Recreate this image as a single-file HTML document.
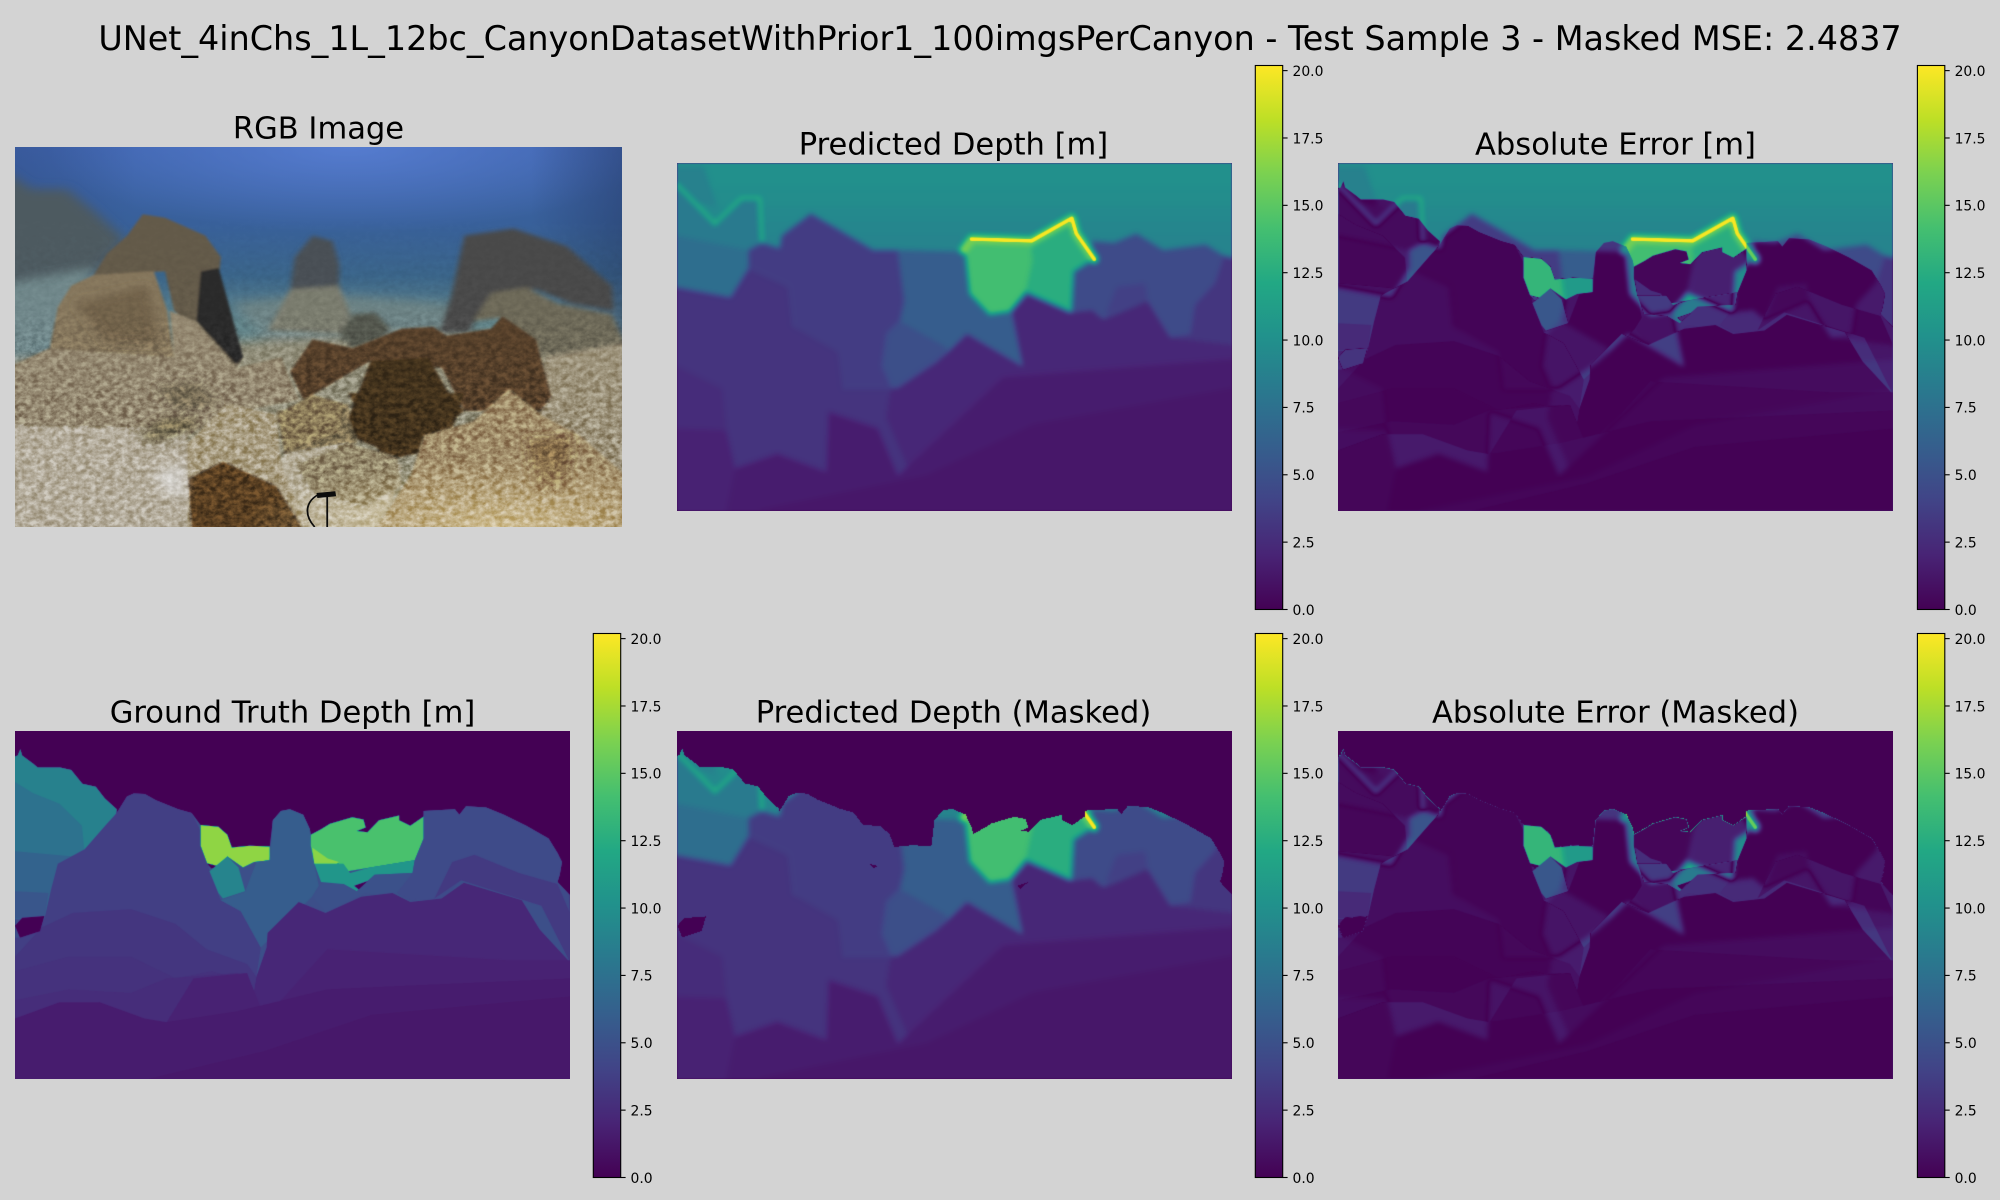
<!DOCTYPE html>
<html lang="en">
<head>
<meta charset="utf-8">
<title>Canyon depth test sample</title>
<style>
html,body{margin:0;padding:0;background:#d3d3d3;}
#figure{position:relative;width:2000px;height:1200px;background:#d3d3d3;overflow:hidden;font-family:"DejaVu Sans","Liberation Sans",sans-serif;color:#000;}
canvas{position:absolute;display:block;}
#overlay{position:absolute;left:0;top:0;}
#rgb{position:absolute;left:15px;top:147px;}
</style>
</head>
<body>
<div id="figure">
  <svg id="rgb" width="607" height="380" viewBox="34 412 1359 1063" preserveAspectRatio="none">
    <defs>
      <linearGradient id="water" x1="0" y1="0" x2="0" y2="1">
        <stop offset="0" stop-color="#3f64ad"/><stop offset="0.2" stop-color="#38609a"/>
        <stop offset="0.34" stop-color="#3a6488"/><stop offset="0.46" stop-color="#5f8288"/>
        <stop offset="1" stop-color="#8f9488"/>
      </linearGradient>
      <radialGradient id="glow" cx="0.55" cy="0" r="0.5">
        <stop offset="0" stop-color="#5b82d8" stop-opacity="0.8"/><stop offset="1" stop-color="#5b82d8" stop-opacity="0"/>
      </radialGradient>
      <linearGradient id="edge" x1="0" y1="0" x2="1" y2="0">
        <stop offset="0" stop-color="#203058" stop-opacity="0.2"/><stop offset="0.2" stop-color="#203058" stop-opacity="0"/>
        <stop offset="0.85" stop-color="#203058" stop-opacity="0"/><stop offset="1" stop-color="#203058" stop-opacity="0.4"/>
      </linearGradient>
      <radialGradient id="sun" cx="0.8" cy="1" r="0.42">
        <stop offset="0" stop-color="#f4e3ae" stop-opacity="0.55"/><stop offset="1" stop-color="#f0dfa8" stop-opacity="0"/>
      </radialGradient>
      <linearGradient id="noiseFade" x1="0" y1="0" x2="0" y2="1">
        <stop offset="0" stop-color="#000"/><stop offset="0.3" stop-color="#222"/><stop offset="0.5" stop-color="#aaa"/><stop offset="0.7" stop-color="#fff"/>
      </linearGradient>
      <mask id="noiseMask" maskUnits="userSpaceOnUse" x="34" y="412" width="1359" height="1063">
        <rect x="34" y="600" width="1359" height="875" fill="url(#noiseFade)"/>
      </mask>
      <filter id="blurFar" x="-0.1" y="-0.1" width="1.2" height="1.2"><feGaussianBlur stdDeviation="14"/></filter>
      <filter id="blurMid" x="-0.1" y="-0.1" width="1.2" height="1.2"><feGaussianBlur stdDeviation="6"/></filter>
      <filter id="blurNear" x="-0.1" y="-0.1" width="1.2" height="1.2"><feGaussianBlur stdDeviation="3"/></filter>
      <filter id="blurPatch" x="-0.3" y="-0.3" width="1.6" height="1.6"><feGaussianBlur stdDeviation="12"/></filter>
      <filter id="grain" x="0" y="0" width="1" height="1" color-interpolation-filters="sRGB">
        <feTurbulence type="fractalNoise" baseFrequency="0.07" numOctaves="4" seed="11"/>
        <feColorMatrix type="matrix" values="1.3 1.3 0 0 -0.8 1.3 1.3 0 0 -0.8 1.3 1.3 0 0 -0.8 0 0 0 0 1"/>
      </filter>
      <clipPath id="rgbClip"><rect x="34" y="412" width="1359" height="1063"/></clipPath>
    </defs>
    <g clip-path="url(#rgbClip)">
    <rect x="34" y="412" width="1359" height="1063" fill="url(#water)"/>
    <rect x="34" y="412" width="1359" height="480" fill="url(#glow)"/>
    <rect x="34" y="412" width="1359" height="620" fill="url(#edge)"/>
    <g filter="url(#blurFar)">
      <polygon fill="#4d5a60" points="0,470 70,530 150,530 210,590 280,670 220,770 110,830 0,830"/>
      <polygon fill="#6f878a" points="0,800 210,750 170,950 0,1030"/>
      <polygon fill="#6c8284" points="520,850 660,830 800,830 1010,850 1060,960 640,1010"/>
      <polygon fill="#8f8c78" points="0,1010 600,950 1000,930 1400,950 1400,1500 0,1500"/>
    </g>
    <g filter="url(#blurMid)">
      <polygon fill="#494f55" points="660,720 700,660 745,675 760,740 760,810 650,810"/>
      <polygon fill="#7a7c6e" points="650,810 760,800 785,880 770,935 600,925"/>
      <polygon fill="#52564d" points="760,935 790,880 840,875 875,920 850,950 790,975"/>
      <polygon fill="#494a48" points="1040,660 1150,640 1270,690 1370,800 1375,870 1280,850 1200,810 1100,820 1050,930 985,930 1010,830"/>
      <polygon fill="#6d6958" points="1060,900 1100,820 1180,805 1250,850 1370,880 1400,960 1290,1005 1220,1000 1120,890"/>
      <polygon fill="#9c927a" points="1220,1000 1400,960 1400,1480 1200,1200"/>
    </g>
    <g filter="url(#blurNear)">
      <polygon fill="#645a4a" points="285,660 320,600 370,610 460,660 495,720 490,780 545,1000 530,1030 450,930 390,870 370,760 210,770 240,710"/>
      <polygon fill="#2b292a" points="450,760 490,750 545,1000 530,1020 440,900"/>
      <polygon fill="#85765b" points="210,770 345,760 375,870 390,1000 300,1020 110,985 130,860 160,800"/>
      <polygon fill="#93876f" points="380,870 440,900 530,1030 630,1000 670,1120 500,1160 420,1220 0,1190 0,1040 110,975 390,1000"/>
      <polygon fill="#b3ab9a" points="0,1190 420,1200 430,1500 0,1500"/>
      <polygon fill="#56402a" points="650,1040 700,950 790,975 900,920 970,915 1000,940 1100,920 1125,885 1200,950 1235,1110 1210,1150 1040,1150 990,1030 830,1010 680,1120"/>
      <polygon fill="#7d6f52" points="620,1150 780,1130 800,1240 640,1290"/>
      <polygon fill="#b8b09c" points="640,1270 780,1240 900,1300 880,1400 830,1500 700,1500 620,1300"/>
      <polygon fill="#4e3a24" points="780,1100 1040,1100 1000,1250 860,1290"/>
      <polygon fill="#43301c" points="780,1170 830,1010 960,1000 1000,1090 1040,1150 930,1260 900,1280 800,1230"/>
      <polygon fill="#8a7a58" points="620,1160 700,1105 770,1130 760,1210 640,1265"/>
      <polygon fill="#a89c80" points="420,1240 510,1130 620,1160 630,1300 700,1500 420,1500"/>
      <polygon fill="#5a4024" points="420,1340 500,1290 620,1360 690,1500 430,1500"/>
      <polygon fill="#93876a" points="660,1300 780,1240 890,1280 900,1360 820,1420 700,1380"/>
      <polygon fill="#9f8b68" points="830,1500 920,1330 950,1220 1060,1180 1140,1090 1210,1160 1300,1220 1400,1330 1400,1500"/>
    </g>
    <g filter="url(#blurPatch)">
      <polygon fill="#6b5c44" fill-opacity="0.75" points="170,850 330,800 360,960 240,960"/>
      <polygon fill="#6b5f48" fill-opacity="0.7" points="350,1085 440,1070 490,1130 400,1150"/>
      <polygon fill="#6f6547" fill-opacity="0.8" points="305,1215 370,1170 450,1170 420,1215 340,1250"/>
      <polygon fill="#dcdbd8" fill-opacity="0.8" points="345,1325 415,1295 415,1395 370,1380"/>
      <polygon fill="#6e4f2e" fill-opacity="0.5" points="1180,1230 1280,1220 1270,1370 1200,1380"/>
    </g>
    <rect x="34" y="1000" width="1359" height="475" fill="url(#sun)"/>
    <rect x="34" y="600" width="1359" height="875" filter="url(#grain)" mask="url(#noiseMask)" style="mix-blend-mode:overlay" opacity="0.38"/>
    <path d="M712 1385 C685 1405 680 1440 705 1475 M733 1385 L733 1475" fill="none" stroke="#0c0c0c" stroke-width="4"/>
    <path d="M710 1387 L752 1382" fill="none" stroke="#0c0c0c" stroke-width="14"/>
    </g>
  </svg>

  <canvas id="gtPanel" width="555" height="348" style="left:15px;top:731px"></canvas>
  <canvas id="predPanel" width="555" height="348" style="left:677px;top:163px"></canvas>
  <canvas id="errPanel" width="555" height="348" style="left:1338px;top:163px"></canvas>
  <canvas id="predMaskedPanel" width="555" height="348" style="left:677px;top:731px"></canvas>
  <canvas id="errMaskedPanel" width="555" height="348" style="left:1338px;top:731px"></canvas>

  <svg id="overlay" width="2000" height="1200" viewBox="0 0 2000 1200">
    <defs>
      <linearGradient id="viridisGradient" x1="0" y1="1" x2="0" y2="0"></linearGradient>
    </defs>
    <text x="1000" y="50" text-anchor="middle" font-size="33.4">UNet_4inChs_1L_12bc_CanyonDatasetWithPrior1_100imgsPerCanyon - Test Sample 3 - Masked MSE: 2.4837</text>
    <text x="318.5" y="138.7" text-anchor="middle" font-size="30.55">RGB Image</text>
    <text x="953.5" y="154.7" text-anchor="middle" font-size="30.55">Predicted Depth [m]</text>
    <text x="1615.5" y="154.7" text-anchor="middle" font-size="30.55">Absolute Error [m]</text>
    <text x="292.5" y="722.7" text-anchor="middle" font-size="30.55">Ground Truth Depth [m]</text>
    <text x="953.5" y="722.7" text-anchor="middle" font-size="30.55">Predicted Depth (Masked)</text>
    <text x="1615.5" y="722.7" text-anchor="middle" font-size="30.55">Absolute Error (Masked)</text>
  </svg>
</div>

<script>
// Colour scale and axis data
const domainMax = 20.19;
const viridisStops = ["#440154","#482475","#414487","#355f8d","#2a788e","#21918c","#22a884","#44bf70","#7ad151","#bddf26","#fde725"];
const tickValues = [0, 2.5, 5, 7.5, 10, 12.5, 15, 17.5, 20];
const tickLabels = ["0.0","2.5","5.0","7.5","10.0","12.5","15.0","17.5","20.0"];

// Predicted depth: metres per region, and region outlines in image units (1244 x 956)
const predDepths = [10,9.7,9.4,9.2,9,8.8,8.2,7.3,3.0,2.2,2.5,1.6,1.3,1.9,5.9,4.8,3.6,4.6,3.2,3.8,14,12.6];
const predOutlines = [
  [0,0,1244,0,1244,956,0,956],
  [0,70,1244,70,1244,956,0,956],
  [0,120,1244,120,1244,956,0,956],
  [0,160,1244,160,1244,956,0,956],
  [0,200,1244,200,1244,956,0,956],
  [0,10,60,10,90,120,0,100],
  [0,60,85,167,145,99,185,99,190,214,160,240,0,200],
  [0,200,160,240,160,290,120,370,0,341],
  [0,341,120,369,160,289,250,339,260,449,370,519,370,619,480,619,580,549,650,469,775,559,750,409,785,359,880,411,930,404,955,429,1055,379,1105,479,1244,499,1244,956,0,956],
  [750,409,785,359,880,411,930,404,955,429,1055,379,1105,479,1244,499,1244,956,560,956,470,700,480,619,580,549,650,469,775,559],
  [0,560,100,620,110,735,0,730],
  [340,684,450,729,495,859,730,589,1244,539,1244,956,110,956,130,839,225,799,335,849],
  [180,956,560,860,800,720,1244,620,1244,956],
  [0,730,110,735,130,839,110,956,0,956],
  [495,239,645,244,655,359,700,419,750,409,775,559,680,489,650,469,610,510,500,434,510,379],
  [500,434,610,510,580,549,495,619,475,619,460,559,470,469],
  [160,239,190,219,230,234,235,199,300,139,350,174,440,239,495,239,510,379,500,434,470,469,460,559,480,619,370,619,360,519,315,489,260,449,250,339,160,289],
  [930,214,980,219,1030,194,1090,239,1185,224,1225,254,1205,329,1160,389,1150,469,1105,479,1055,379,955,429,930,404,885,409,890,299,935,264],
  [1225,254,1244,260,1244,499,1105,479,1150,469,1160,389,1205,329],
  [960,420,985,340,1050,330,1055,379],
  [645,244,660,209,795,214,798,269,785,349,745,409,700,417,655,359],
  [795,214,885,154,895,194,935,264,890,299,885,409,785,357,798,269]
];
// Soft glow lines blurred along with the regions
const predGlowDepths = [13,16];
const predGlowWidths = [8,20];
const predGlows = [
  [0,60,85,167,145,97,185,97,190,214],
  [642,239,660,209,795,214,885,152,895,194,935,264]
];
// Sharp bright ridge on top of the glow
const predRidgeDepths = [20];
const predRidgeWidths = [13];
const predRidges = [
  [660,209,795,214,885,152,895,194,935,264]
];

// Ground truth depth: metres per region, and outlines in the same image units
const gtDepths = [0,4.8,8.8,7.6,6.4,5.4,3.7,3.2,2.9,2.6,16.8,0,9,5.9,14.3,16.6,10.5,0,4.6,3.4,5,2.2,1.9,1.55,1.35,0];
const gtOutlines = [
  [0,0,1244,0,1244,956,0,956],
  [0,70,6,67,12,50,16,67,41,90,51,100,101,100,126,107,151,145,181,153,201,185,228,215,228,225,251,180,266,172,291,173,316,190,366,215,396,225,416,258,456,263,476,285,486,320,526,315,571,317,578,245,596,220,616,215,646,230,661,270,663,285,686,270,706,255,756,237,781,243,786,265,766,275,790,278,816,245,861,232,861,245,886,260,916,235,916,220,986,215,996,230,1011,207,1056,210,1096,230,1146,260,1196,295,1216,335,1226,360,1221,395,1216,415,1243,450,1244,956,0,956],
  [0,70,6,67,12,50,16,67,41,90,51,100,101,100,126,107,151,145,181,153,201,185,228,215,224,240,156,335,96,375,66,515,0,515],
  [0,140,40,170,100,200,150,260,156,335,96,375,66,515,0,515],
  [0,330,130,345,96,375,66,515,0,515],
  [0,440,75,445,66,515,0,515],
  [66,515,81,435,96,365,156,325,206,255,228,225,251,180,266,172,291,173,316,190,366,215,396,225,416,275,436,385,461,465,506,495,551,595,541,675,506,695,500,956,0,956,0,568,11,568,56,550],
  [0,620,60,540,130,500,260,490,360,530,430,600,520,640,541,675,500,956,0,956],
  [0,660,120,620,260,620,360,680,440,660,500,680,500,956,0,956],
  [0,740,120,710,260,720,340,680,500,665,560,790,600,956,0,956],
  [416,258,456,263,476,285,486,320,526,315,571,317,571,355,536,360,511,375,476,345,456,375,431,365,416,315],
  [430,363,458,372,440,378],
  [436,385,476,345,501,375,516,440,466,460,456,445],
  [571,355,578,245,596,220,616,215,646,230,661,270,666,335,681,425,666,455,551,595,506,495,461,465,516,440,541,360],
  [663,285,686,270,706,255,756,237,781,243,786,265,766,275,790,278,816,245,861,232,861,245,886,260,916,235,916,295,896,355,746,385,726,365,671,365,663,315],
  [666,320,701,350,726,360,711,375,671,365],
  [671,365,736,365,751,390,796,375,896,355,891,390,806,395,766,440,736,420,686,415],
  [760,425,795,410,775,440],
  [916,220,986,215,996,230,1011,207,1056,210,1096,230,1146,260,1196,295,1216,335,1226,360,1221,395,1216,415,1243,450,1244,635,1180,480,1000,410,960,460,886,465,856,445,891,390,896,355,916,295],
  [940,460,980,360,1030,340,1130,390,1216,420,1244,500,1244,635,1180,480,1000,410],
  [666,455,686,420,736,420,766,440,806,395,891,390,856,445,886,470,786,445,696,500],
  [1244,635,1176,545,1136,465,1006,417,956,460,886,470,846,445,776,455,696,500,636,470,566,555,564,595,541,675,500,956,1244,956],
  [340,800,400,680,520,665,560,790,700,600,1100,630,1244,630,1244,956,340,956],
  [0,790,100,745,190,745,290,790,340,800,500,770,700,710,1244,680,1244,956,0,956],
  [300,956,560,880,800,780,1244,730,1244,956],
  [0,535,16,513,66,508,56,550,11,568]
];

// Axis functions
const W = 555, H = 348, unitW = 1244, unitH = 956;
function xScale(u){ return u * W / unitW; }
function yScale(v){ return v * H / unitH; }
function depthToGray(d){ var g = Math.round(Math.min(d, domainMax) / domainMax * 255); return "rgb(" + g + "," + g + "," + g + ")"; }
function hexToRgb(h){ return [parseInt(h.substr(1,2),16), parseInt(h.substr(3,2),16), parseInt(h.substr(5,2),16)]; }
const stopRgb = viridisStops.map(hexToRgb);
function colorAt(d){
  var t = Math.max(0, Math.min(1, d / domainMax)) * (stopRgb.length - 1);
  var i = Math.min(stopRgb.length - 2, Math.floor(t)), f = t - i;
  var a = stopRgb[i], b = stopRgb[i + 1];
  return [a[0] + (b[0] - a[0]) * f, a[1] + (b[1] - a[1]) * f, a[2] + (b[2] - a[2]) * f];
}
function tracePath(ctx, pts){
  ctx.beginPath();
  ctx.moveTo(xScale(pts[0]), yScale(pts[1]));
  for (var i = 2; i < pts.length; i += 2) ctx.lineTo(xScale(pts[i]), yScale(pts[i + 1]));
}
function rasterize(depths, outlines, ridgeDepths, ridges, ridgeWidths){
  var c = document.createElement("canvas");
  c.width = W; c.height = H;
  var ctx = c.getContext("2d");
  ctx.fillStyle = "#000"; ctx.fillRect(0, 0, W, H);
  depths.forEach(function(d, i){
    tracePath(ctx, outlines[i]); ctx.closePath();
    ctx.fillStyle = depthToGray(d); ctx.fill();
  });
  ctx.lineJoin = "round"; ctx.lineCap = "round";
  ridgeDepths.forEach(function(d, i){
    tracePath(ctx, ridges[i]);
    ctx.strokeStyle = depthToGray(d);
    ctx.lineWidth = ridgeWidths[i] * W / unitW;
    ctx.stroke();
  });
  var px = ctx.getImageData(0, 0, W, H).data, out = new Float32Array(W * H);
  for (var k = 0; k < W * H; k++) out[k] = px[k * 4] / 255 * domainMax;
  return out;
}
function boxBlur(src, radius, passes){
  var a = src, n = 2 * radius + 1;
  for (var p = 0; p < passes; p++){
    var b = new Float32Array(W * H), c = new Float32Array(W * H), x, y, r, s;
    for (y = 0; y < H; y++) for (x = 0; x < W; x++){
      s = 0; for (r = -radius; r <= radius; r++) s += a[y * W + Math.max(0, Math.min(W - 1, x + r))];
      b[y * W + x] = s / n;
    }
    for (y = 0; y < H; y++) for (x = 0; x < W; x++){
      s = 0; for (r = -radius; r <= radius; r++) s += b[Math.max(0, Math.min(H - 1, y + r)) * W + x];
      c[y * W + x] = s / n;
    }
    a = c;
  }
  return a;
}
function paint(id, values){
  var ctx = document.getElementById(id).getContext("2d");
  var img = ctx.createImageData(W, H);
  for (var k = 0; k < W * H; k++){
    var rgb = colorAt(values[k]);
    img.data[k * 4] = rgb[0]; img.data[k * 4 + 1] = rgb[1]; img.data[k * 4 + 2] = rgb[2]; img.data[k * 4 + 3] = 255;
  }
  ctx.putImageData(img, 0, 0);
}

var predBase = boxBlur(rasterize(predDepths, predOutlines, predGlowDepths, predGlows, predGlowWidths), 2, 3);
var predRidgeLayer = boxBlur(rasterize([], [], predRidgeDepths, predRidges, predRidgeWidths), 1, 1);
var pred = new Float32Array(W * H);
for (var i = 0; i < W * H; i++) pred[i] = Math.max(predBase[i], predRidgeLayer[i]);
// thin darker rim around the network output, as in the source image
for (var px = 0; px < W; px++){ pred[px] *= 0.6; pred[(H - 1) * W + px] *= 0.6; }
for (var py = 0; py < H; py++){ pred[py * W] *= 0.6; pred[py * W + W - 1] *= 0.6; }

var gt = rasterize(gtDepths, gtOutlines, [], [], []);
var err = new Float32Array(W * H), predMasked = new Float32Array(W * H), errMasked = new Float32Array(W * H);
for (var k = 0; k < W * H; k++){
  err[k] = Math.abs(pred[k] - gt[k]);
  var valid = gt[k] > 0.5;
  predMasked[k] = valid ? pred[k] : 0;
  errMasked[k] = valid ? err[k] : 0;
}
paint("gtPanel", gt);
paint("predPanel", pred);
paint("errPanel", err);
paint("predMaskedPanel", predMasked);
paint("errMaskedPanel", errMasked);

// Colorbars
var NS = "http://www.w3.org/2000/svg";
var overlay = document.getElementById("overlay");
var gradient = document.getElementById("viridisGradient");
viridisStops.forEach(function(col, i){
  var s = document.createElementNS(NS, "stop");
  s.setAttribute("offset", i / (viridisStops.length - 1));
  s.setAttribute("stop-color", col);
  gradient.appendChild(s);
});
function drawColorbar(name, left, top){
  var barW = 27.4, barH = 544, bottom = top + barH;
  function cbarY(v){ return bottom - v / domainMax * barH; }
  var g = document.createElementNS(NS, "g");
  
  
  var bar = document.createElementNS(NS, "rect");
  
  
  bar.setAttribute("x", left); bar.setAttribute("y", top);
  bar.setAttribute("width", barW); bar.setAttribute("height", barH);
  bar.setAttribute("fill", "url(#viridisGradient)");
  bar.setAttribute("stroke", "#000"); bar.setAttribute("stroke-width", "1.1");
  g.appendChild(bar);
  tickValues.forEach(function(v, i){
    var y = cbarY(v);
    var tick = document.createElementNS(NS, "line");
    
    
    tick.setAttribute("x1", left + barW); tick.setAttribute("x2", left + barW + 4.9);
    tick.setAttribute("y1", y); tick.setAttribute("y2", y);
    tick.setAttribute("stroke", "#000"); tick.setAttribute("stroke-width", "1.1");
    g.appendChild(tick);
    var label = document.createElementNS(NS, "text");
    
    
    label.setAttribute("x", left + barW + 9.8); label.setAttribute("y", y + 5.3);
    label.setAttribute("font-size", "13.9");
    label.textContent = tickLabels[i];
    g.appendChild(label);
  });
  overlay.appendChild(g);
}
drawColorbar("predicted-depth-colorbar", 1255.3, 65.5);
drawColorbar("absolute-error-colorbar", 1917.4, 65.5);
drawColorbar("ground-truth-colorbar", 593.3, 633.5);
drawColorbar("predicted-depth-masked-colorbar", 1255.3, 633.5);
drawColorbar("absolute-error-masked-colorbar", 1917.4, 633.5);
</script>
</body>
</html>
